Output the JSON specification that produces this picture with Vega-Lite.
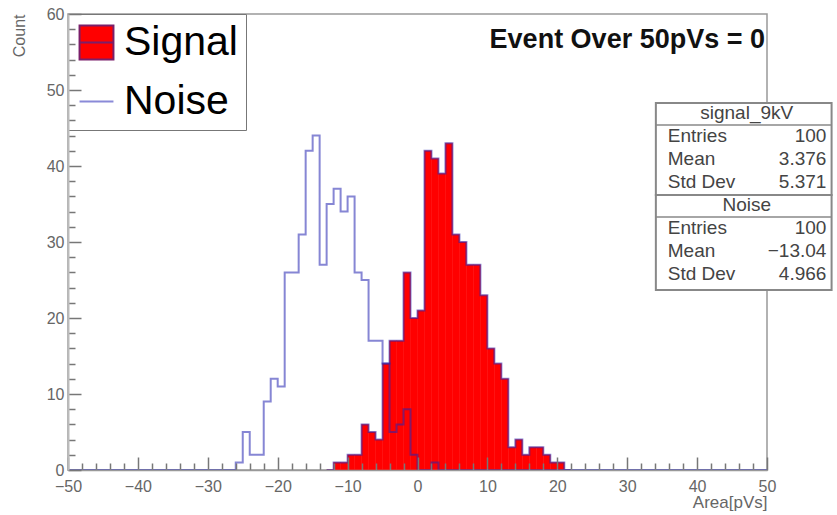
{
  "$schema": "https://vega.github.io/schema/vega-lite/v6.json",
  "width": 699,
  "height": 456,
  "autosize": "none",
  "padding": {"left": 68, "top": 14, "right": 70, "bottom": 45},
  "background": "white",
  "config": {"font": "Liberation Sans", "view": {"stroke": "#999", "strokeWidth": 1.5}},
  "datasets": {
    "hist": [
      {"series":"Signal","lo":-13,"hi":-12,"count":0},
      {"series":"Signal","lo":-12,"hi":-11,"count":1},
      {"series":"Signal","lo":-11,"hi":-10,"count":1},
      {"series":"Signal","lo":-10,"hi":-9,"count":2},
      {"series":"Signal","lo":-9,"hi":-8,"count":2},
      {"series":"Signal","lo":-8,"hi":-7,"count":6},
      {"series":"Signal","lo":-7,"hi":-6,"count":5},
      {"series":"Signal","lo":-6,"hi":-5,"count":4},
      {"series":"Signal","lo":-5,"hi":-4,"count":14},
      {"series":"Signal","lo":-4,"hi":-3,"count":17},
      {"series":"Signal","lo":-3,"hi":-2,"count":17},
      {"series":"Signal","lo":-2,"hi":-1,"count":26},
      {"series":"Signal","lo":-1,"hi":0,"count":20},
      {"series":"Signal","lo":0,"hi":1,"count":21},
      {"series":"Signal","lo":1,"hi":2,"count":42},
      {"series":"Signal","lo":2,"hi":3,"count":41},
      {"series":"Signal","lo":3,"hi":4,"count":39},
      {"series":"Signal","lo":4,"hi":5,"count":43},
      {"series":"Signal","lo":5,"hi":6,"count":31},
      {"series":"Signal","lo":6,"hi":7,"count":30},
      {"series":"Signal","lo":7,"hi":8,"count":27},
      {"series":"Signal","lo":8,"hi":9,"count":27},
      {"series":"Signal","lo":9,"hi":10,"count":23},
      {"series":"Signal","lo":10,"hi":11,"count":16},
      {"series":"Signal","lo":11,"hi":12,"count":14},
      {"series":"Signal","lo":12,"hi":13,"count":12},
      {"series":"Signal","lo":13,"hi":14,"count":3},
      {"series":"Signal","lo":14,"hi":15,"count":4},
      {"series":"Signal","lo":15,"hi":16,"count":2},
      {"series":"Signal","lo":16,"hi":17,"count":3},
      {"series":"Signal","lo":17,"hi":18,"count":3},
      {"series":"Signal","lo":18,"hi":19,"count":2},
      {"series":"Signal","lo":19,"hi":20,"count":1},
      {"series":"Signal","lo":20,"hi":21,"count":1},
      {"series":"Signal","lo":21,"hi":22,"count":0},
      {"series":"Noise","lo":-50,"hi":-49,"count":0},
      {"series":"Noise","lo":-49,"hi":-48,"count":0},
      {"series":"Noise","lo":-48,"hi":-47,"count":0},
      {"series":"Noise","lo":-47,"hi":-46,"count":0},
      {"series":"Noise","lo":-46,"hi":-45,"count":0},
      {"series":"Noise","lo":-45,"hi":-44,"count":0},
      {"series":"Noise","lo":-44,"hi":-43,"count":0},
      {"series":"Noise","lo":-43,"hi":-42,"count":0},
      {"series":"Noise","lo":-42,"hi":-41,"count":0},
      {"series":"Noise","lo":-41,"hi":-40,"count":0},
      {"series":"Noise","lo":-40,"hi":-39,"count":0},
      {"series":"Noise","lo":-39,"hi":-38,"count":0},
      {"series":"Noise","lo":-38,"hi":-37,"count":0},
      {"series":"Noise","lo":-37,"hi":-36,"count":0},
      {"series":"Noise","lo":-36,"hi":-35,"count":0},
      {"series":"Noise","lo":-35,"hi":-34,"count":0},
      {"series":"Noise","lo":-34,"hi":-33,"count":0},
      {"series":"Noise","lo":-33,"hi":-32,"count":0},
      {"series":"Noise","lo":-32,"hi":-31,"count":0},
      {"series":"Noise","lo":-31,"hi":-30,"count":0},
      {"series":"Noise","lo":-30,"hi":-29,"count":0},
      {"series":"Noise","lo":-29,"hi":-28,"count":0},
      {"series":"Noise","lo":-28,"hi":-27,"count":0},
      {"series":"Noise","lo":-27,"hi":-26,"count":0},
      {"series":"Noise","lo":-26,"hi":-25,"count":1},
      {"series":"Noise","lo":-25,"hi":-24,"count":5},
      {"series":"Noise","lo":-24,"hi":-23,"count":2},
      {"series":"Noise","lo":-23,"hi":-22,"count":2},
      {"series":"Noise","lo":-22,"hi":-21,"count":9},
      {"series":"Noise","lo":-21,"hi":-20,"count":12},
      {"series":"Noise","lo":-20,"hi":-19,"count":11},
      {"series":"Noise","lo":-19,"hi":-18,"count":26},
      {"series":"Noise","lo":-18,"hi":-17,"count":26},
      {"series":"Noise","lo":-17,"hi":-16,"count":31},
      {"series":"Noise","lo":-16,"hi":-15,"count":42},
      {"series":"Noise","lo":-15,"hi":-14,"count":44},
      {"series":"Noise","lo":-14,"hi":-13,"count":27},
      {"series":"Noise","lo":-13,"hi":-12,"count":35},
      {"series":"Noise","lo":-12,"hi":-11,"count":37},
      {"series":"Noise","lo":-11,"hi":-10,"count":34},
      {"series":"Noise","lo":-10,"hi":-9,"count":36},
      {"series":"Noise","lo":-9,"hi":-8,"count":26},
      {"series":"Noise","lo":-8,"hi":-7,"count":25},
      {"series":"Noise","lo":-7,"hi":-6,"count":17},
      {"series":"Noise","lo":-6,"hi":-5,"count":17},
      {"series":"Noise","lo":-5,"hi":-4,"count":14},
      {"series":"Noise","lo":-4,"hi":-3,"count":5},
      {"series":"Noise","lo":-3,"hi":-2,"count":6},
      {"series":"Noise","lo":-2,"hi":-1,"count":8},
      {"series":"Noise","lo":-1,"hi":0,"count":2},
      {"series":"Noise","lo":0,"hi":1,"count":0},
      {"series":"Noise","lo":1,"hi":2,"count":0},
      {"series":"Noise","lo":2,"hi":3,"count":1},
      {"series":"Noise","lo":3,"hi":4,"count":0},
      {"series":"Noise","lo":4,"hi":5,"count":0},
      {"series":"Noise","lo":5,"hi":6,"count":0},
      {"series":"Noise","lo":6,"hi":7,"count":0},
      {"series":"Noise","lo":7,"hi":8,"count":0},
      {"series":"Noise","lo":8,"hi":9,"count":0},
      {"series":"Noise","lo":9,"hi":10,"count":0},
      {"series":"Noise","lo":10,"hi":11,"count":0},
      {"series":"Noise","lo":11,"hi":12,"count":0},
      {"series":"Noise","lo":12,"hi":13,"count":0},
      {"series":"Noise","lo":13,"hi":14,"count":0},
      {"series":"Noise","lo":14,"hi":15,"count":0},
      {"series":"Noise","lo":15,"hi":16,"count":0},
      {"series":"Noise","lo":16,"hi":17,"count":0},
      {"series":"Noise","lo":17,"hi":18,"count":0},
      {"series":"Noise","lo":18,"hi":19,"count":0},
      {"series":"Noise","lo":19,"hi":20,"count":0},
      {"series":"Noise","lo":20,"hi":21,"count":0},
      {"series":"Noise","lo":21,"hi":22,"count":0},
      {"series":"Noise","lo":22,"hi":23,"count":0},
      {"series":"Noise","lo":23,"hi":24,"count":0},
      {"series":"Noise","lo":24,"hi":25,"count":0},
      {"series":"Noise","lo":25,"hi":26,"count":0},
      {"series":"Noise","lo":26,"hi":27,"count":0},
      {"series":"Noise","lo":27,"hi":28,"count":0},
      {"series":"Noise","lo":28,"hi":29,"count":0},
      {"series":"Noise","lo":29,"hi":30,"count":0},
      {"series":"Noise","lo":30,"hi":31,"count":0},
      {"series":"Noise","lo":31,"hi":32,"count":0},
      {"series":"Noise","lo":32,"hi":33,"count":0},
      {"series":"Noise","lo":33,"hi":34,"count":0},
      {"series":"Noise","lo":34,"hi":35,"count":0},
      {"series":"Noise","lo":35,"hi":36,"count":0},
      {"series":"Noise","lo":36,"hi":37,"count":0},
      {"series":"Noise","lo":37,"hi":38,"count":0},
      {"series":"Noise","lo":38,"hi":39,"count":0},
      {"series":"Noise","lo":39,"hi":40,"count":0},
      {"series":"Noise","lo":40,"hi":41,"count":0},
      {"series":"Noise","lo":41,"hi":42,"count":0},
      {"series":"Noise","lo":42,"hi":43,"count":0},
      {"series":"Noise","lo":43,"hi":44,"count":0},
      {"series":"Noise","lo":44,"hi":45,"count":0},
      {"series":"Noise","lo":45,"hi":46,"count":0},
      {"series":"Noise","lo":46,"hi":47,"count":0},
      {"series":"Noise","lo":47,"hi":48,"count":0},
      {"series":"Noise","lo":48,"hi":49,"count":0},
      {"series":"Noise","lo":49,"hi":50,"count":0}
    ],
    "stats": [
      {"row":0,"kind":"head","key":"signal_9kV","val":""},
      {"row":1,"kind":"item","key":"Entries","val":"100"},
      {"row":2,"kind":"item","key":"Mean","val":"3.376"},
      {"row":3,"kind":"item","key":"Std Dev","val":"5.371"},
      {"row":4,"kind":"head","key":"Noise","val":""},
      {"row":5,"kind":"item","key":"Entries","val":"100"},
      {"row":6,"kind":"item","key":"Mean","val":"−13.04"},
      {"row":7,"kind":"item","key":"Std Dev","val":"4.966"}
    ]
  },
  "resolve": {"scale": {"x": "independent", "y": "independent"}},
  "layer": [
    {
      "data": {"name": "hist"},
      "transform": [{"filter": "datum.series === 'Signal'"}],
      "mark": {"type": "rect", "color": "#ff0000", "stroke": "#ff0000", "strokeWidth": 0.5},
      "encoding": {
        "x": {"field": "lo", "type": "quantitative",
          "scale": {"domain": [-50, 50], "nice": false, "zero": false},
          "axis": {
            "values": [-50,-48,-46,-44,-42,-40,-38,-36,-34,-32,-30,-28,-26,-24,-22,-20,-18,-16,-14,-12,-10,-8,-6,-4,-2,0,2,4,6,8,10,12,14,16,18,20,22,24,26,28,30,32,34,36,38,40,42,44,46,48,50],
            "labelExpr": "datum.value % 10 === 0 ? datum.label : ''",
            "tickSize": {"condition": {"test": "datum.value % 10 === 0", "value": -13}, "value": -7},
            "tickColor": "#777", "tickWidth": 1.5,
            "domainColor": "#999", "domainWidth": 1.5,
            "labelFontSize": 16, "labelColor": "#666", "labelPadding": 21,
            "labelFlush": false, "labelOverlap": false,
            "title": "Area[pVs]", "titleFontSize": 17, "titleFontWeight": "normal", "titleColor": "#666",
            "titleAnchor": "end", "titleAlign": "right", "titlePadding": -6,
            "grid": false, "zindex": 1
          }},
        "x2": {"field": "hi"},
        "y": {"field": "count", "type": "quantitative",
          "scale": {"domain": [0, 60], "nice": false},
          "axis": {
            "values": [0,2,4,6,8,10,12,14,16,18,20,22,24,26,28,30,32,34,36,38,40,42,44,46,48,50,52,54,56,58,60],
            "labelExpr": "datum.value % 10 === 0 ? datum.label : ''",
            "tickSize": {"condition": {"test": "datum.value % 10 === 0", "value": -13}, "value": -7},
            "tickColor": "#777", "tickWidth": 1.5,
            "domainColor": "#bbb", "domainWidth": 2,
            "labelFontSize": 16, "labelColor": "#666", "labelPadding": 17,
            "labelFlush": false, "labelOverlap": false,
            "title": "Count", "titleFontSize": 16, "titleFontWeight": "normal", "titleColor": "#666",
            "titleAngle": -90, "titleX": -49, "titleY": 0, "titleAlign": "right", "titleBaseline": "middle",
            "grid": false, "zindex": 1
          }},
        "y2": {"datum": 0}
      }
    },
    {
      "data": {"name": "hist"},
      "transform": [{"fold": ["lo", "hi"], "as": ["k", "edge"]}],
      "mark": {"type": "line", "strokeWidth": 2, "opacity": 0.55, "stroke": "#2222b0"},
      "encoding": {
        "x": {"field": "edge", "type": "quantitative", "scale": {"domain": [-50, 50], "nice": false, "zero": false}, "axis": null},
        "y": {"field": "count", "type": "quantitative", "scale": {"domain": [0, 60], "nice": false}, "axis": null},
        "detail": {"field": "series", "type": "nominal"},
        "order": [{"field": "edge", "type": "quantitative"}, {"field": "k", "type": "nominal"}]
      }
    },
    {
      "data": {"values": [{"series": "Signal"}, {"series": "Noise"}]},
      "mark": {"type": "point", "opacity": 0, "strokeWidth": 2},
      "encoding": {
        "x": {"datum": 0, "type": "quantitative", "scale": {"domain": [-50, 50], "nice": false, "zero": false}, "axis": null},
        "y": {"datum": 0, "type": "quantitative", "scale": {"domain": [0, 60], "nice": false}, "axis": null},
        "shape": {"field": "series", "type": "nominal",
          "scale": {"domain": ["Signal", "Noise"], "range": ["M-1,-1H1V1H-1Z M-1,0H1", "stroke"]},
          "legend": {
            "title": null, "orient": "top-left", "offset": 0, "padding": 8,
            "fillColor": "#ffffff", "strokeColor": "#777",
            "labelFontSize": 41, "labelColor": "#000", "labelFont": "Liberation Sans", "labelLimit": 0, "labelOffset": 7,
            "symbolSize": 1150, "symbolStrokeWidth": 2, "symbolOpacity": 1, "rowPadding": 16
          }},
        "fill": {"field": "series", "type": "nominal",
          "scale": {"domain": ["Signal", "Noise"], "range": ["#ff0000", "transparent"]},
          "legend": {
            "title": null, "orient": "top-left", "offset": 0, "padding": 8,
            "fillColor": "#ffffff", "strokeColor": "#777",
            "labelFontSize": 41, "labelColor": "#000", "labelFont": "Liberation Sans", "labelLimit": 0, "labelOffset": 7,
            "symbolSize": 1150, "symbolStrokeWidth": 2, "symbolOpacity": 1, "rowPadding": 16
          }},
        "stroke": {"field": "series", "type": "nominal",
          "scale": {"domain": ["Signal", "Noise"], "range": ["#7a1f6a", "#8a8ad8"]},
          "legend": {
            "title": null, "orient": "top-left", "offset": 0, "padding": 8,
            "fillColor": "#ffffff", "strokeColor": "#777",
            "labelFontSize": 41, "labelColor": "#000", "labelFont": "Liberation Sans", "labelLimit": 0, "labelOffset": 7,
            "symbolSize": 1150, "symbolStrokeWidth": 2, "symbolOpacity": 1, "rowPadding": 16
          }}
      }
    },
    {
      "data": {"values": [{"t": "Event Over 50pVs = 0"}]},
      "mark": {"type": "text", "align": "right", "baseline": "middle", "fontSize": 27, "fontWeight": "bold", "font": "Liberation Sans", "color": "#111", "dx": -2},
      "encoding": {
        "x": {"datum": 50, "type": "quantitative", "scale": {"domain": [-50, 50], "nice": false, "zero": false}, "axis": null},
        "y": {"datum": 56.6, "type": "quantitative", "scale": {"domain": [0, 60], "nice": false}, "axis": null},
        "text": {"field": "t"}
      }
    },
    {
      "data": {"values": [{"box": "signal_9kV"}]},
      "mark": {"type": "rect", "fill": "white", "stroke": "#888", "strokeWidth": 2},
      "encoding": {
        "x": {"datum": 34.1, "type": "quantitative", "scale": {"domain": [-50, 50], "nice": false, "zero": false}, "axis": null},
        "x2": {"datum": 59.24},
        "y": {"datum": -0.435, "type": "quantitative", "scale": {"domain": [-4.304, 15.522], "reverse": true, "nice": false, "zero": false}, "axis": null},
        "y2": {"datum": 3.565}
      }
    },
    {
      "data": {"values": [{"box": "Noise"}]},
      "mark": {"type": "rect", "fill": "white", "stroke": "#888", "strokeWidth": 2},
      "encoding": {
        "x": {"datum": 34.1, "type": "quantitative", "scale": {"domain": [-50, 50], "nice": false, "zero": false}, "axis": null},
        "x2": {"datum": 59.24},
        "y": {"datum": 3.565, "type": "quantitative", "scale": {"domain": [-4.304, 15.522], "reverse": true, "nice": false, "zero": false}, "axis": null},
        "y2": {"datum": 7.696}
      }
    },
    {
      "data": {"name": "stats"},
      "transform": [{"filter": "datum.kind === 'head'"}],
      "mark": {"type": "rule", "stroke": "#888", "strokeWidth": 1.5, "yOffset": 12},
      "encoding": {
        "x": {"datum": 34.1, "type": "quantitative", "scale": {"domain": [-50, 50], "nice": false, "zero": false}, "axis": null},
        "x2": {"datum": 59.24},
        "y": {"field": "row", "type": "quantitative", "scale": {"domain": [-4.304, 15.522], "reverse": true, "nice": false, "zero": false}, "axis": null}
      }
    },
    {
      "data": {"name": "stats"},
      "transform": [{"filter": "datum.kind === 'head'"}],
      "mark": {"type": "text", "align": "center", "baseline": "middle", "fontSize": 19, "font": "Liberation Sans", "color": "#444"},
      "encoding": {
        "x": {"datum": 47.1, "type": "quantitative", "scale": {"domain": [-50, 50], "nice": false, "zero": false}, "axis": null},
        "y": {"field": "row", "type": "quantitative", "scale": {"domain": [-4.304, 15.522], "reverse": true, "nice": false, "zero": false}, "axis": null},
        "text": {"field": "key"}
      }
    },
    {
      "data": {"name": "stats"},
      "transform": [{"filter": "datum.kind === 'item'"}],
      "mark": {"type": "text", "align": "left", "baseline": "middle", "fontSize": 19, "font": "Liberation Sans", "color": "#444"},
      "encoding": {
        "x": {"datum": 35.8, "type": "quantitative", "scale": {"domain": [-50, 50], "nice": false, "zero": false}, "axis": null},
        "y": {"field": "row", "type": "quantitative", "scale": {"domain": [-4.304, 15.522], "reverse": true, "nice": false, "zero": false}, "axis": null},
        "text": {"field": "key"}
      }
    },
    {
      "data": {"name": "stats"},
      "transform": [{"filter": "datum.kind === 'item'"}],
      "mark": {"type": "text", "align": "right", "baseline": "middle", "fontSize": 19, "font": "Liberation Sans", "color": "#444"},
      "encoding": {
        "x": {"datum": 58.5, "type": "quantitative", "scale": {"domain": [-50, 50], "nice": false, "zero": false}, "axis": null},
        "y": {"field": "row", "type": "quantitative", "scale": {"domain": [-4.304, 15.522], "reverse": true, "nice": false, "zero": false}, "axis": null},
        "text": {"field": "val"}
      }
    }
  ]
}
